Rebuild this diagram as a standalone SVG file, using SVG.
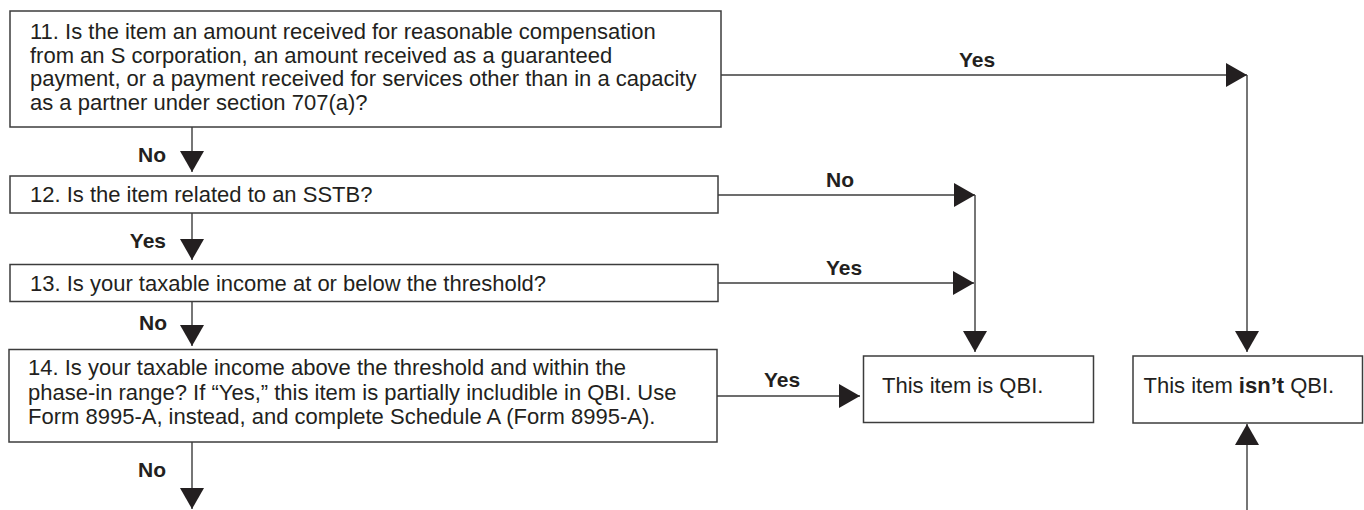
<svg xmlns="http://www.w3.org/2000/svg" width="1364" height="510" viewBox="0 0 1364 510">
<style>
  .box { fill: #ffffff; stroke: #3c3c3c; stroke-width: 1.5; }
  .txt { font-family: "Liberation Sans", Arial, Helvetica, sans-serif; font-size: 22px; fill: #231f20; }
  .lbl { font-family: "Liberation Sans", Arial, Helvetica, sans-serif; font-size: 21px; font-weight: bold; fill: #231f20; }
  .b { font-weight: bold; }
  .con { fill: none; stroke: #3c3c3c; stroke-width: 1.4; }
</style>
<defs>
  <marker id="arr" markerUnits="userSpaceOnUse" markerWidth="22" markerHeight="24" refX="21" refY="12" orient="auto" viewBox="0 0 22 24">
    <path d="M0,0 L21,12 L0,24 Z" fill="#231f20"/>
  </marker>
</defs>
<rect width="1364" height="510" fill="#ffffff"/>

<g id="connectors">
  <path class="con" d="M721,75 H1247" marker-end="url(#arr)"/>
  <path class="con" d="M1247,75 V352" marker-end="url(#arr)"/>
  <path class="con" d="M192,127 V172" marker-end="url(#arr)"/>
  <path class="con" d="M718,195 H975" marker-end="url(#arr)"/>
  <path class="con" d="M192,213 V260" marker-end="url(#arr)"/>
  <path class="con" d="M718,283 H974" marker-end="url(#arr)"/>
  <path class="con" d="M975,195 V352" marker-end="url(#arr)"/>
  <path class="con" d="M192,302 V346" marker-end="url(#arr)"/>
  <path class="con" d="M717,396 H860" marker-end="url(#arr)"/>
  <path class="con" d="M192,442 V509" marker-end="url(#arr)"/>
  <path class="con" d="M1247,510 V424" marker-end="url(#arr)"/>
  <text class="lbl" x="977" y="67" text-anchor="middle">Yes</text>
  <text class="lbl" x="166" y="162" text-anchor="end">No</text>
  <text class="lbl" x="840" y="187" text-anchor="middle">No</text>
  <text class="lbl" x="166" y="248" text-anchor="end">Yes</text>
  <text class="lbl" x="844" y="275" text-anchor="middle">Yes</text>
  <text class="lbl" x="167" y="330" text-anchor="end">No</text>
  <text class="lbl" x="782" y="387" text-anchor="middle">Yes</text>
  <text class="lbl" x="166" y="477" text-anchor="end">No</text>
</g>

<g id="q11">
  <rect class="box" x="10" y="11" width="711" height="116"/>
  <text class="txt" x="30" y="39">11. Is the item an amount received for reasonable compensation</text>
  <text class="txt" x="30" y="62.5">from an S corporation, an amount received as a guaranteed</text>
  <text class="txt" x="30" y="86">payment, or a payment received for services other than in a capacity</text>
  <text class="txt" x="30" y="109.5">as a partner under section 707(a)?</text>
</g>

<g id="q12">
  <rect class="box" x="10" y="176" width="708" height="37"/>
  <text class="txt" x="30" y="202">12. Is the item related to an SSTB?</text>
</g>

<g id="q13">
  <rect class="box" x="10" y="264.5" width="708" height="37"/>
  <text class="txt" x="30" y="291">13. Is your taxable income at or below the threshold?</text>
</g>

<g id="q14">
  <rect class="box" x="9" y="349.5" width="708" height="92.5"/>
  <text class="txt" x="28" y="375">14. Is your taxable income above the threshold and within the</text>
  <text class="txt" x="28" y="399.5">phase-in range? If “Yes,” this item is partially includible in QBI. Use</text>
  <text class="txt" x="28" y="424">Form 8995-A, instead, and complete Schedule A (Form 8995-A).</text>
</g>

<g id="is-qbi">
  <rect class="box" x="863.5" y="356" width="230" height="66.5"/>
  <text class="txt" x="882" y="393">This item is QBI.</text>
</g>

<g id="isnt-qbi">
  <rect class="box" x="1133" y="356" width="229.5" height="67"/>
  <text class="txt" x="1143.5" y="393">This item <tspan class="b">isn’t</tspan> QBI.</text>
</g>
</svg>
